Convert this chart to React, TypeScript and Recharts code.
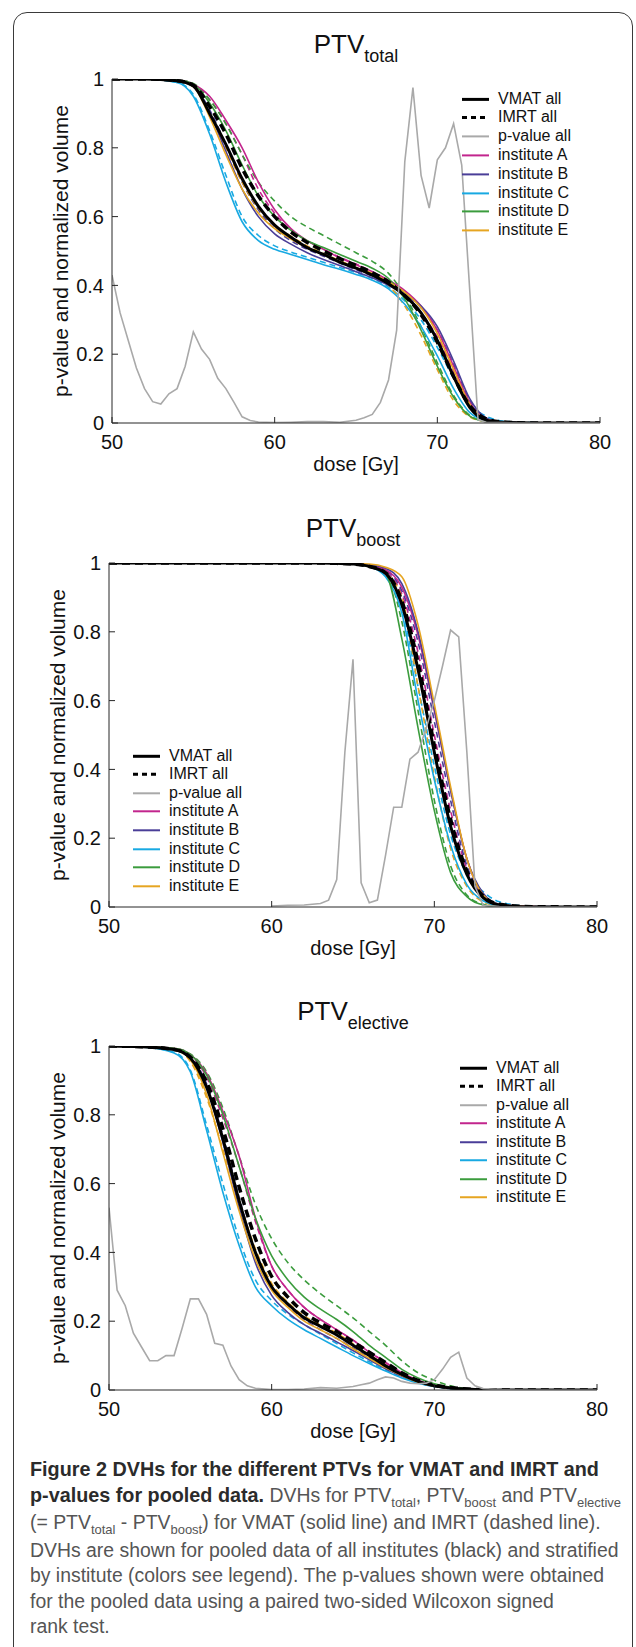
import React from 'react';
import { LineChart, Line, XAxis, YAxis } from 'recharts';

// shared dose grid (Gy) for the DVH curves
const doseGrid = [50, 52, 54, 55, 56, 57, 58, 59, 60, 61, 62, 63, 64, 65, 66, 67, 68, 69, 70, 71, 72, 73, 74, 76, 80];
// dose grid for the p-value curves
const pDose = [50, 50.5, 51, 51.5, 52, 52.5, 53, 53.5, 54, 54.5, 55, 55.5, 56, 56.5, 57, 57.5, 58, 58.5, 59, 60, 61, 62, 63, 64, 65, 65.5, 66, 66.5, 67, 67.5, 68, 68.5, 69, 69.5, 70, 70.5, 71, 71.5, 72, 72.5, 73, 74, 76, 80];
const pDoseBoost = [60, 61, 62, 63, 63.5, 64, 64.5, 65, 65.5, 66, 66.5, 67, 67.5, 68, 68.5, 69, 69.5, 70, 70.5, 71, 71.5, 72, 72.5, 73, 74, 76, 80];

const xTicks = [50, 60, 70, 80];
const yTicks = [0, 0.2, 0.4, 0.6, 0.8, 1];
const institutes = ['A', 'B', 'C', 'D', 'E'];

// ---- PTV total ----
const totalVmatAll = [1, 1, 0.995, 0.98, 0.9, 0.81, 0.71, 0.63, 0.575, 0.54, 0.51, 0.49, 0.468, 0.45, 0.43, 0.405, 0.37, 0.32, 0.24, 0.135, 0.045, 0.008, 0.002, 0, 0];
const totalImrtAll = [1, 1, 0.995, 0.982, 0.92, 0.84, 0.74, 0.66, 0.6, 0.555, 0.525, 0.5, 0.478, 0.458, 0.437, 0.41, 0.37, 0.315, 0.235, 0.135, 0.05, 0.012, 0.003, 0, 0];
const totalVmat: Record<string, number[]> = {
  A: [1, 1, 0.997, 0.985, 0.95, 0.88, 0.8, 0.7, 0.62, 0.565, 0.53, 0.505, 0.48, 0.46, 0.44, 0.415, 0.385, 0.34, 0.27, 0.165, 0.06, 0.012, 0.002, 0, 0],
  B: [1, 1, 0.995, 0.98, 0.9, 0.79, 0.68, 0.6, 0.55, 0.52, 0.495, 0.475, 0.458, 0.44, 0.422, 0.4, 0.375, 0.34, 0.28, 0.18, 0.07, 0.015, 0.003, 0, 0],
  C: [1, 1, 0.99, 0.95, 0.84, 0.7, 0.585, 0.53, 0.505, 0.49, 0.475, 0.46, 0.447, 0.432, 0.415, 0.39, 0.345, 0.28, 0.195, 0.1, 0.03, 0.007, 0.001, 0, 0],
  D: [1, 1, 0.997, 0.985, 0.93, 0.85, 0.75, 0.66, 0.6, 0.56, 0.53, 0.51, 0.49, 0.47, 0.45, 0.42, 0.36, 0.27, 0.165, 0.075, 0.02, 0.004, 0.001, 0, 0],
  E: [1, 1, 0.995, 0.978, 0.89, 0.78, 0.68, 0.61, 0.565, 0.535, 0.51, 0.49, 0.47, 0.452, 0.435, 0.41, 0.38, 0.335, 0.26, 0.155, 0.055, 0.01, 0.002, 0, 0],
};
const totalImrt: Record<string, number[]> = {
  A: [1, 1, 0.997, 0.985, 0.94, 0.87, 0.78, 0.68, 0.61, 0.56, 0.53, 0.505, 0.482, 0.462, 0.44, 0.412, 0.375, 0.32, 0.25, 0.15, 0.055, 0.012, 0.002, 0, 0],
  B: [1, 1, 0.995, 0.98, 0.91, 0.81, 0.7, 0.62, 0.565, 0.53, 0.505, 0.485, 0.465, 0.445, 0.427, 0.405, 0.375, 0.335, 0.27, 0.17, 0.065, 0.014, 0.003, 0, 0],
  C: [1, 1, 0.99, 0.955, 0.85, 0.72, 0.6, 0.545, 0.515, 0.497, 0.482, 0.467, 0.452, 0.437, 0.42, 0.395, 0.355, 0.3, 0.22, 0.13, 0.055, 0.02, 0.006, 0.001, 0],
  D: [1, 1, 0.997, 0.987, 0.94, 0.87, 0.78, 0.7, 0.645, 0.6, 0.57, 0.545, 0.52, 0.495, 0.47, 0.435, 0.37, 0.28, 0.175, 0.08, 0.022, 0.005, 0.001, 0, 0],
  E: [1, 1, 0.995, 0.978, 0.9, 0.8, 0.7, 0.625, 0.575, 0.543, 0.515, 0.493, 0.472, 0.452, 0.432, 0.4, 0.34, 0.255, 0.155, 0.065, 0.018, 0.004, 0.001, 0, 0],
};
const totalP = [0.43, 0.32, 0.24, 0.16, 0.1, 0.062, 0.055, 0.085, 0.1, 0.165, 0.265, 0.215, 0.185, 0.13, 0.1, 0.06, 0.018, 0.007, 0.003, 0.001, 0.002, 0.004, 0.004, 0.002, 0.008, 0.015, 0.025, 0.06, 0.125, 0.27, 0.76, 0.975, 0.72, 0.625, 0.765, 0.8, 0.87, 0.75, 0.38, 0.01, 0.002, 0.001, 0, 0];

// ---- PTV boost ----
const boostVmatAll = [1, 1, 1, 1, 1, 1, 1, 1, 1, 1, 1, 1, 0.999, 0.997, 0.99, 0.97, 0.88, 0.69, 0.45, 0.235, 0.095, 0.027, 0.006, 0, 0];
const boostImrtAll = [1, 1, 1, 1, 1, 1, 1, 1, 1, 1, 1, 1, 0.999, 0.997, 0.99, 0.972, 0.89, 0.71, 0.47, 0.255, 0.105, 0.032, 0.008, 0.001, 0];
const boostVmat: Record<string, number[]> = {
  A: [1, 1, 1, 1, 1, 1, 1, 1, 1, 1, 1, 1, 0.999, 0.998, 0.994, 0.98, 0.93, 0.79, 0.57, 0.34, 0.14, 0.035, 0.007, 0.001, 0],
  B: [1, 1, 1, 1, 1, 1, 1, 1, 1, 1, 1, 1, 0.999, 0.998, 0.995, 0.985, 0.94, 0.8, 0.575, 0.34, 0.14, 0.04, 0.008, 0.001, 0],
  C: [1, 1, 1, 1, 1, 1, 1, 1, 1, 1, 1, 1, 0.999, 0.997, 0.99, 0.96, 0.855, 0.6, 0.37, 0.18, 0.065, 0.018, 0.004, 0, 0],
  D: [1, 1, 1, 1, 1, 1, 1, 1, 1, 1, 1, 1, 0.999, 0.997, 0.99, 0.97, 0.78, 0.52, 0.28, 0.1, 0.03, 0.006, 0.001, 0, 0],
  E: [1, 1, 1, 1, 1, 1, 1, 1, 1, 1, 1, 1, 0.999, 0.998, 0.997, 0.988, 0.96, 0.82, 0.59, 0.35, 0.14, 0.035, 0.007, 0.001, 0],
};
const boostImrt: Record<string, number[]> = {
  A: [1, 1, 1, 1, 1, 1, 1, 1, 1, 1, 1, 1, 0.999, 0.998, 0.993, 0.975, 0.91, 0.74, 0.5, 0.28, 0.11, 0.03, 0.006, 0.001, 0],
  B: [1, 1, 1, 1, 1, 1, 1, 1, 1, 1, 1, 1, 0.999, 0.998, 0.995, 0.98, 0.92, 0.77, 0.54, 0.31, 0.12, 0.035, 0.007, 0.001, 0],
  C: [1, 1, 1, 1, 1, 1, 1, 1, 1, 1, 1, 1, 0.999, 0.997, 0.99, 0.965, 0.87, 0.64, 0.41, 0.21, 0.095, 0.045, 0.015, 0.002, 0],
  D: [1, 1, 1, 1, 1, 1, 1, 1, 1, 1, 1, 1, 0.999, 0.997, 0.99, 0.975, 0.83, 0.57, 0.31, 0.12, 0.035, 0.008, 0.002, 0, 0],
  E: [1, 1, 1, 1, 1, 1, 1, 1, 1, 1, 1, 1, 0.999, 0.997, 0.99, 0.97, 0.9, 0.64, 0.38, 0.17, 0.06, 0.015, 0.003, 0, 0],
};
const boostP = [0.003, 0.005, 0.006, 0.01, 0.02, 0.08, 0.45, 0.72, 0.07, 0.012, 0.02, 0.15, 0.29, 0.29, 0.43, 0.45, 0.52, 0.6, 0.7, 0.805, 0.785, 0.45, 0.06, 0.005, 0.001, 0, 0];

// ---- PTV elective ----
const electiveVmatAll = [1, 0.998, 0.99, 0.965, 0.88, 0.73, 0.55, 0.4, 0.3, 0.25, 0.21, 0.185, 0.16, 0.13, 0.1, 0.07, 0.045, 0.025, 0.012, 0.006, 0.003, 0.001, 0, 0, 0];
const electiveImrtAll = [1, 0.998, 0.99, 0.968, 0.895, 0.76, 0.59, 0.44, 0.33, 0.27, 0.225, 0.195, 0.17, 0.14, 0.11, 0.08, 0.05, 0.028, 0.014, 0.007, 0.003, 0.001, 0, 0, 0];
const electiveVmat: Record<string, number[]> = {
  A: [1, 0.998, 0.993, 0.975, 0.92, 0.81, 0.68, 0.5, 0.36, 0.29, 0.24, 0.205, 0.175, 0.145, 0.11, 0.08, 0.05, 0.028, 0.013, 0.006, 0.003, 0.001, 0, 0, 0],
  B: [1, 0.998, 0.99, 0.965, 0.88, 0.72, 0.53, 0.37, 0.275, 0.225, 0.19, 0.165, 0.14, 0.115, 0.088, 0.062, 0.04, 0.022, 0.01, 0.005, 0.002, 0.001, 0, 0, 0],
  C: [1, 0.997, 0.98, 0.925, 0.755, 0.575, 0.42, 0.3, 0.245, 0.205, 0.175, 0.15, 0.125, 0.1, 0.077, 0.055, 0.035, 0.02, 0.01, 0.004, 0.002, 0.001, 0, 0, 0],
  D: [1, 0.998, 0.993, 0.975, 0.915, 0.8, 0.65, 0.5, 0.39, 0.32, 0.27, 0.235, 0.205, 0.17, 0.13, 0.095, 0.06, 0.035, 0.018, 0.008, 0.003, 0.001, 0, 0, 0],
  E: [1, 0.998, 0.99, 0.96, 0.86, 0.69, 0.52, 0.38, 0.29, 0.24, 0.2, 0.175, 0.15, 0.12, 0.092, 0.065, 0.042, 0.023, 0.011, 0.005, 0.002, 0.001, 0, 0, 0],
};
const electiveImrt: Record<string, number[]> = {
  A: [1, 0.998, 0.993, 0.972, 0.91, 0.79, 0.65, 0.49, 0.36, 0.29, 0.24, 0.205, 0.175, 0.145, 0.112, 0.08, 0.05, 0.027, 0.013, 0.006, 0.003, 0.001, 0, 0, 0],
  B: [1, 0.998, 0.99, 0.968, 0.89, 0.74, 0.56, 0.4, 0.3, 0.245, 0.205, 0.175, 0.15, 0.122, 0.094, 0.066, 0.042, 0.023, 0.011, 0.005, 0.002, 0.001, 0, 0, 0],
  C: [1, 0.997, 0.982, 0.93, 0.77, 0.6, 0.44, 0.32, 0.26, 0.22, 0.19, 0.162, 0.135, 0.108, 0.082, 0.058, 0.037, 0.021, 0.01, 0.004, 0.002, 0.001, 0, 0, 0],
  D: [1, 0.998, 0.993, 0.977, 0.925, 0.82, 0.68, 0.54, 0.44, 0.37, 0.32, 0.28, 0.245, 0.21, 0.17, 0.13, 0.085, 0.05, 0.028, 0.012, 0.004, 0.001, 0, 0, 0],
  E: [1, 0.998, 0.99, 0.955, 0.85, 0.7, 0.55, 0.41, 0.31, 0.255, 0.215, 0.19, 0.165, 0.135, 0.103, 0.073, 0.046, 0.025, 0.012, 0.005, 0.002, 0.001, 0, 0, 0],
};
const electiveP = [0.53, 0.29, 0.245, 0.165, 0.125, 0.085, 0.085, 0.1, 0.1, 0.18, 0.265, 0.265, 0.22, 0.136, 0.13, 0.07, 0.03, 0.012, 0.005, 0.001, 0.001, 0.003, 0.007, 0.005, 0.01, 0.015, 0.02, 0.03, 0.038, 0.035, 0.025, 0.02, 0.018, 0.02, 0.03, 0.06, 0.095, 0.11, 0.035, 0.012, 0.004, 0.001, 0, 0];

const COLORS: Record<string, string> = {
  A: '#c2258d',
  B: '#4a3e98',
  C: '#18a9e2',
  D: '#3b9c3d',
  E: '#e6a521',
};
const P_COLOR = '#a9a9a9';
const AXIS = '#262626';
const FONT = '"Liberation Sans", Arial, Helvetica, sans-serif';

// merge DVH columns and p-values into one table keyed by dose
function buildRows(vmatAll: number[], imrtAll: number[], vmat: Record<string, number[]>, imrt: Record<string, number[]>, pd: number[], p: number[]) {
  const map = new Map<number, any>();
  doseGrid.forEach((d, i) => {
    const row: any = { dose: d, vmatAll: vmatAll[i], imrtAll: imrtAll[i] };
    institutes.forEach((k) => {
      row['vmat' + k] = vmat[k][i];
      row['imrt' + k] = imrt[k][i];
    });
    map.set(d, row);
  });
  pd.forEach((d, i) => {
    const row = map.get(d) ?? { dose: d };
    row.p = p[i];
    map.set(d, row);
  });
  return [...map.values()].sort((a, b) => a.dose - b.dose);
}

const legendItems = [
  { label: 'VMAT all', color: '#000', width: 3, dash: undefined },
  { label: 'IMRT all', color: '#000', width: 3, dash: '5 4' },
  { label: 'p-value all', color: P_COLOR, width: 2, dash: undefined },
  ...institutes.map((k) => ({ label: 'institute ' + k, color: COLORS[k], width: 2, dash: undefined })),
];

function PlotLegend({ left, top, rowH }: { left: number; top: number; rowH: number }) {
  return (
    <div style={{ position: 'absolute', left, top: top - rowH / 2, fontFamily: FONT, fontSize: 16, color: '#111' }}>
      {legendItems.map((it, i) => (
        <div key={it.label} style={{ position: 'absolute', top: i * rowH, left: 0, height: rowH, whiteSpace: 'nowrap', lineHeight: rowH + 'px' }}>
          <svg width={28} height={rowH} style={{ position: 'absolute', left: 0, top: 0 }}>
            <line x1={0} x2={27} y1={rowH / 2} y2={rowH / 2} stroke={it.color} strokeWidth={it.width} strokeDasharray={it.dash} />
          </svg>
          <span style={{ position: 'absolute', left: 36 }}>{it.label}</span>
        </div>
      ))}
    </div>
  );
}

interface PanelProps {
  top: number;
  plotLeft: number;
  plotRight: number;
  sub: string;
  rows: any[];
  legend: { left: number; top: number; rowH: number };
}

function Panel({ top, plotLeft, plotRight, sub, rows, legend }: PanelProps) {
  const yAxisW = 103;
  const center = (plotLeft + plotRight) / 2;
  return (
    <>
      <div style={{ position: 'absolute', top: top + 79 - 48, left: center - 150, width: 300, textAlign: 'center', fontFamily: FONT, fontSize: 26, lineHeight: '26px', color: '#111', whiteSpace: 'nowrap' }}>
        PTV<span style={{ fontSize: 18, position: 'relative', top: 9 }}>{sub}</span>
      </div>
      <div style={{ position: 'absolute', top, left: 0 }}>
        <LineChart
          width={636}
          height={505}
          data={rows}
          margin={{ top: 79, right: 636 - plotRight, bottom: 0, left: plotLeft - yAxisW }}
        >
          <XAxis
            dataKey="dose"
            type="number"
            domain={[50, 80]}
            ticks={xTicks}
            allowDataOverflow
            height={82}
            tickSize={-6}
            tickMargin={18}
            stroke={AXIS}
            tick={{ fill: '#111', fontSize: 20, fontFamily: FONT }}
            label={{ value: 'dose [Gy]', position: 'center', fill: '#111', fontSize: 20, fontFamily: FONT }}
          />
          <YAxis
            type="number"
            domain={[0, 1]}
            ticks={yTicks}
            allowDataOverflow
            width={yAxisW}
            tickSize={-6}
            tickMargin={14}
            stroke={AXIS}
            tick={{ fill: '#111', fontSize: 20, fontFamily: FONT }}
            label={{ value: 'p-value and normalized volume', angle: -90, position: 'center', fill: '#111', fontSize: 21, fontFamily: FONT }}
          />
          {institutes.map((k) => (
            <Line key={'imrt' + k} dataKey={'imrt' + k} type="monotone" stroke={COLORS[k]} strokeWidth={1.6} strokeDasharray="6 4" dot={false} activeDot={false} connectNulls isAnimationActive={false} />
          ))}
          {institutes.map((k) => (
            <Line key={'vmat' + k} dataKey={'vmat' + k} type="monotone" stroke={COLORS[k]} strokeWidth={1.6} dot={false} activeDot={false} connectNulls isAnimationActive={false} />
          ))}
          <Line dataKey="imrtAll" type="monotone" stroke="#000" strokeWidth={3.5} strokeDasharray="8 5" dot={false} activeDot={false} connectNulls isAnimationActive={false} />
          <Line dataKey="vmatAll" type="monotone" stroke="#000" strokeWidth={3} dot={false} activeDot={false} connectNulls isAnimationActive={false} />
          <Line dataKey="p" type="linear" stroke={P_COLOR} strokeWidth={1.6} dot={false} activeDot={false} connectNulls isAnimationActive={false} />
        </LineChart>
      </div>
      <PlotLegend {...legend} />
    </>
  );
}

const subStyle: React.CSSProperties = { fontSize: 13, position: 'relative', top: 5 };
const boldStyle: React.CSSProperties = { color: '#2b2b2b', fontSize: 19.8 };

function Caption() {
  return (
    <div style={{ position: 'absolute', left: 30, top: 1457, fontFamily: FONT, fontSize: 19.4, lineHeight: '25.5px', color: '#555', whiteSpace: 'nowrap' }}>
      <div>
        <b style={boldStyle}>Figure 2 DVHs for the different PTVs for VMAT and IMRT and</b>
      </div>
      <div>
        <b style={boldStyle}>p-values for pooled data.</b> DVHs for PTV<span style={subStyle}>total</span>, PTV<span style={subStyle}>boost</span> and PTV<span style={subStyle}>elective</span>
      </div>
      <div>
        (= PTV<span style={subStyle}>total</span> - PTV<span style={subStyle}>boost</span>) for VMAT (solid line) and IMRT (dashed line).
      </div>
      <div>DVHs are shown for pooled data of all institutes (black) and stratified</div>
      <div>by institute (colors see legend). The p-values shown were obtained</div>
      <div>for the pooled data using a paired two-sided Wilcoxon signed</div>
      <div>rank test.</div>
    </div>
  );
}

export default function App() {
  const totalRows = buildRows(totalVmatAll, totalImrtAll, totalVmat, totalImrt, pDose, totalP);
  const boostRows = buildRows(boostVmatAll, boostImrtAll, boostVmat, boostImrt, pDoseBoost, boostP);
  const electiveRows = buildRows(electiveVmatAll, electiveImrtAll, electiveVmat, electiveImrt, pDose, electiveP);
  return (
    <div style={{ position: 'relative', width: 636, height: 1647, overflow: 'hidden', background: '#fff' }}>
      <style>{'body{margin:0}'}</style>
      <div style={{ position: 'absolute', left: 13, top: 12, width: 620, height: 1700, border: '1.5px solid #3a3a3a', borderRadius: 14, boxSizing: 'border-box' }} />
      <Panel top={0} plotLeft={112} plotRight={600} sub="total" rows={totalRows} legend={{ left: 462, top: 99, rowH: 18.8 }} />
      <Panel top={484} plotLeft={109} plotRight={597} sub="boost" rows={boostRows} legend={{ left: 133, top: 756, rowH: 18.6 }} />
      <Panel top={967} plotLeft={109} plotRight={597} sub="elective" rows={electiveRows} legend={{ left: 460, top: 1068, rowH: 18.5 }} />
      <Caption />
    </div>
  );
}
